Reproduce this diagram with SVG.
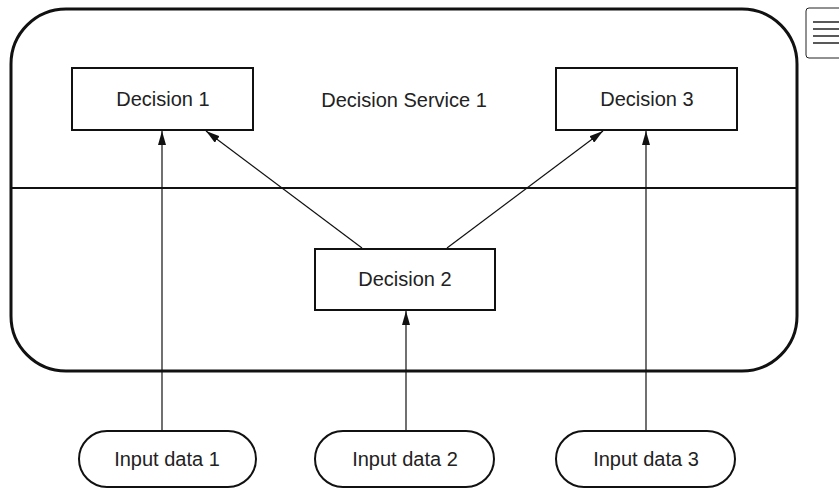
<svg xmlns="http://www.w3.org/2000/svg" width="839" height="493" viewBox="0 0 839 493">
<style>
.t{font-family:"Liberation Sans",Arial,sans-serif;font-size:20px;fill:#222;text-anchor:middle;dominant-baseline:central}
.box{fill:#fff;stroke:#111;stroke-width:2}
.conn{stroke:#111;stroke-width:1.2;fill:none;marker-end:url(#ah)}
</style>
<defs>
<marker id="ah" markerWidth="14" markerHeight="8" refX="14" refY="4" orient="auto" markerUnits="userSpaceOnUse" viewBox="0 0 14 8">
<path d="M0,0 L14,4 L0,8 z" fill="#111"/>
</marker>
</defs>
<rect x="806" y="8" width="40" height="50" rx="3" fill="#fff" stroke="#222" stroke-width="1"/>
<g stroke="#222" stroke-width="1.5"><line x1="813" y1="22" x2="839" y2="22"/><line x1="813" y1="29" x2="839" y2="29"/><line x1="813" y1="36" x2="839" y2="36"/><line x1="813" y1="43" x2="839" y2="43"/></g>
<g id="service">
<rect x="11" y="9" width="786" height="362" rx="55" fill="none" stroke="#111" stroke-width="3"/>
<line x1="11" y1="188" x2="797" y2="188" stroke="#111" stroke-width="1.8"/>
<text class="t" x="404" y="100">Decision Service 1</text>
</g>
<g id="connectors">
<line class="conn" x1="162" y1="430" x2="162" y2="131"/>
<line class="conn" x1="646" y1="430" x2="646" y2="131"/>
<line class="conn" x1="406" y1="430" x2="406" y2="311"/>
<line class="conn" x1="362" y1="248" x2="206" y2="131"/>
<line class="conn" x1="447" y1="248" x2="603" y2="131"/>
</g>
<g id="decision1"><rect class="box" x="72" y="68" width="181" height="62"/><text class="t" x="163" y="99">Decision 1</text></g>
<g id="decision3"><rect class="box" x="556" y="68" width="181" height="62"/><text class="t" x="647" y="99">Decision 3</text></g>
<g id="decision2"><rect class="box" x="315" y="249" width="180" height="61"/><text class="t" x="405" y="279">Decision 2</text></g>
<g id="input1"><rect class="box" x="79" y="431" width="177" height="56" rx="28"/><text class="t" x="167" y="459">Input data 1</text></g>
<g id="input2"><rect class="box" x="315" y="431" width="179" height="56" rx="28"/><text class="t" x="405" y="459">Input data 2</text></g>
<g id="input3"><rect class="box" x="556" y="431" width="179" height="56" rx="28"/><text class="t" x="646" y="459">Input data 3</text></g>
</svg>
